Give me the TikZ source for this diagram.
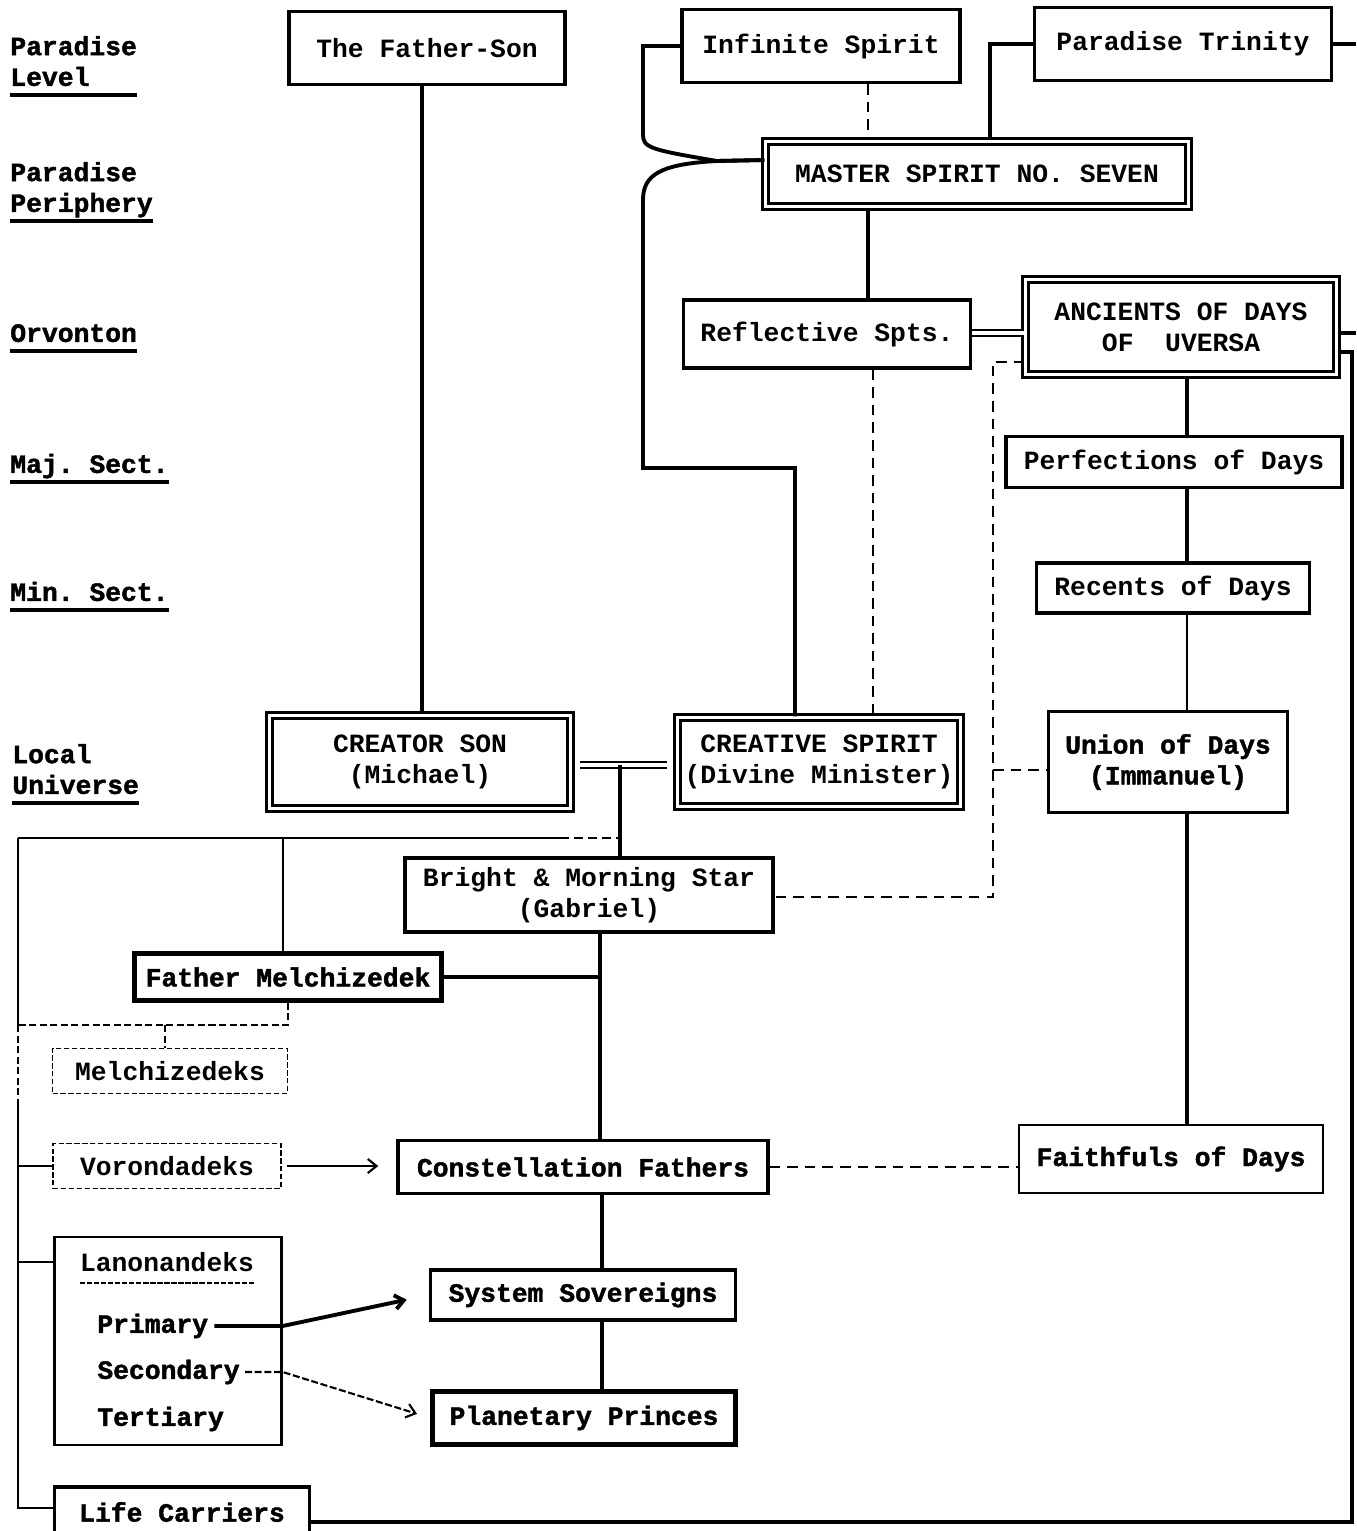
\documentclass[tikz,border=0pt]{standalone}
\usepackage{fontspec}
\newfontfamily\tw{Liberation Mono}[UprightFont={* Bold}, BoldFont={* Bold}, BoldFeatures={FakeBold=1.6}]
\usetikzlibrary{arrows.meta}
\tikzset{
  sz/.style 2 args={minimum width=#1*0.02cm, minimum height=#2*0.02cm},
}
\frenchspacing

\begin{document}
\begin{tikzpicture}[x=0.02cm, y=-0.02cm,
    every node/.style={font=\tw\fontsize{15}{17.5}\selectfont, inner sep=0pt, align=center},
    bf/.style={font=\tw\bfseries\fontsize{15}{17.5}\selectfont},
    box/.style={draw, line width=2pt},
    dbox/.style={draw, line width=1.4pt, double, double distance=2pt},
    faint/.style={draw, line width=0.9pt, dash pattern=on 3pt off 1.5pt},
    lvl/.style={bf, anchor=south west, align=left, text depth=5pt},
    link/.style={line width=2.2pt},
    fine/.style={line width=1.2pt},
    dlink/.style={line width=1.6pt, dash pattern=on 6pt off 4pt},
    dbl/.style={line width=1.2pt, double, double distance=2pt},
    >={Straight Barb[length=5pt,width=8pt]}]
  \fill[white] (0,0) rectangle (1356,1531);
  \useasboundingbox (0,0) rectangle (1356,1531);

  % levels
  \node[lvl] (l1) at (10,95) {Paradise\\Level};
  \node[lvl] (l2) at (10,221) {Paradise\\Periphery};
  \node[lvl] (l3) at (10,351) {Orvonton};
  \node[lvl] (l4) at (10,482) {Maj. Sect.};
  \node[lvl] (l5) at (10,610) {Min. Sect.};
  \node[lvl] (l6) at (12,803) {Local\\Universe};
  \foreach \n in {l1,l2,l3,l4,l5,l6}
    \draw[link] (\n.south west) -- (\n.south east);

  % boxes
  \node[box, sz={276}{73}] (fs) at (427,48) {The Father-Son};
  \node[box, sz={278}{73}] (is) at (821,46) {Infinite Spirit};
  \node[box, sz={297}{73}] (pt) at (1183,44) {Paradise Trinity};
  \node[dbox, sz={423}{65}] (ms) at (977,174) {MASTER SPIRIT NO. SEVEN};
  \node[box, sz={287}{68}] (rs) at (827,334) {Reflective Spts.};
  \node[dbox, sz={311}{95}] (ad) at (1181,327) {ANCIENTS OF DAYS\\OF\ \ UVERSA};
  \node[box, sz={336}{51}] (pd) at (1174,462) {Perfections of Days};
  \node[box, sz={273}{50}] (rd) at (1173,588) {Recents of Days};
  \node[dbox, sz={301}{93}] (cs) at (420,762) {CREATOR SON\\(Michael)};
  \node[dbox, sz={283}{89}] (cv) at (819,762) {CREATIVE SPIRIT\\(Divine Minister)};
  \node[box, bf, line width=1.5pt, sz={239}{101}] (ud) at (1168,762) {Union of Days\\(Immanuel)};
  \node[box, sz={368}{74}] (bm) at (589,895) {Bright \& Morning Star\\(Gabriel)};
  \node[box, bf, line width=2.4pt, sz={307}{47}] (fm) at (288,977) {Father Melchizedek};
  \node[faint, sz={235}{45}] (mz) at (170,1071) {Melchizedeks};
  \node[faint, sz={228}{45}] (vd) at (167,1166) {Vorondadeks};
  \node[box, bf, sz={370}{53}] (cf) at (583,1167) {Constellation Fathers};
  \node[box, bf, line width=1.5pt, sz={304}{68}] (fd) at (1171,1159) {Faithfuls of Days};
  \node[draw, line width=1.3pt, sz={227}{208}] (ln) at (168,1341) {};
  \node (lnt) at (167,1262) {Lanonandeks};
  \node[bf, anchor=west] (pri) at (97,1326) {Primary};
  \node[bf, anchor=west] (sec) at (97,1372) {Secondary};
  \node[bf, anchor=west] (ter) at (97,1419) {Tertiary};
  \node[box, bf, sz={305}{50}] (ss) at (583,1295) {System Sovereigns};
  \node[box, bf, line width=2.4pt, sz={303}{53}] (pp) at (584,1418) {Planetary Princes};
  \node[box, bf, sz={255}{50}] (lc) at (182,1512) {Life Carriers};
  \draw[fine, dash pattern=on 3pt off 1pt] (80,1283) -- (255,1283);

  % upper part
  \draw[link] (422,0 |- fs.south) -- (422,0 |- cs.north);
  \draw[link] (is.west) -- (643,0 |- is.west) -- (643,135)
    .. controls (643,148) and (652,150) .. (717,161) -- (ms.west |- 0,160);
  \draw[link] (ms.west |- 0,160) -- (717,161) .. controls (660,164) and (643,175) .. (643,200)
    -- (643,468) -- (795,468) -- (795,0 |- cv.north);
  \draw[link] (pt.west) -- (990,0 |- pt.west) -- (990,0 |- ms.north);
  \draw[link] (pt.east) -- (1356,0 |- pt.east);
  \draw[dlink] (868,0 |- is.south) -- (868,0 |- ms.north);
  \draw[link] (868,0 |- ms.south) -- (868,0 |- rs.north);
  \draw[dbl] (rs.east |- 0,333) -- (ad.west |- 0,333);
  \draw[link] (ad.east |- 0,333) -- (1356,333);
  \draw[link] (ad.east |- 0,352) -- (1352,352) -- (1352,1522) -- (lc.east |- 0,1522);
  \draw[dlink] (873,0 |- rs.south) -- (873,0 |- cv.north);
  \draw[dlink] (ad.west |- 0,362) -- (993,362) -- (993,897) -- (bm.east |- 0,897);
  \draw[dlink] (993,770) -- (ud.west |- 0,770);
  \draw[link] (1187,0 |- ad.south) -- (1187,0 |- pd.north);
  \draw[link] (1187,0 |- pd.south) -- (1187,0 |- rd.north);
  \draw[fine] (1187,0 |- rd.south) -- (1187,0 |- ud.north);
  \draw[link] (1187,0 |- ud.south) -- (1187,0 |- fd.north);

  % local universe
  \draw[dbl, shorten <=0.16cm, shorten >=0.18cm] (cs.east |- 0,765) -- (cv.west |- 0,765);
  \draw[link] (620,765) -- (620,0 |- bm.north);
  \draw[fine] (18,838) -- (560,838);
  \draw[fine, dash pattern=on 5pt off 3pt] (560,838) -- (620,838);
  \draw[fine] (283,838) -- (283,0 |- fm.north);
  \draw[fine] (18,838) -- (18,1025);
  \draw[fine, dash pattern=on 4pt off 2pt] (18,1025) -- (18,1100);
  \draw[fine] (18,1100) -- (18,1508) -- (lc.west |- 0,1508);
  \draw[fine, dash pattern=on 4pt off 2pt] (288,0 |- fm.south) -- (288,1025) -- (18,1025);
  \draw[fine, dash pattern=on 4pt off 2pt] (165,1025) -- (165,0 |- mz.north);
  \draw[fine] (18,0 |- vd.west) -- (vd.west);
  \draw[fine] (18,1262) -- (ln.west |- 0,1262);
  \draw[link] (fm.east) -- (600,0 |- fm.east);
  \draw[link] (600,0 |- bm.south) -- (600,0 |- cf.north);
  \draw[link] (602,0 |- cf.south) -- (602,0 |- ss.north);
  \draw[link] (602,0 |- ss.south) -- (602,0 |- pp.north);
  \draw[dlink] (cf.east) -- (cf.east -| fd.west);
  \draw[fine, ->, shorten <=0.1cm, shorten >=0.36cm] (vd.east) -- (vd.east -| cf.west);
  \draw[link, ->, shorten >=0.45cm] ([xshift=0.12cm]pri.east) -- (ln.east |- pri.east) -- (ss.west);
  \draw[fine, dash pattern=on 4pt off 1.5pt, ->, shorten >=0.28cm] ([xshift=0.1cm]sec.east)
    -- (ln.east |- sec.east) -- (pp.west);
\end{tikzpicture}
\end{document}
